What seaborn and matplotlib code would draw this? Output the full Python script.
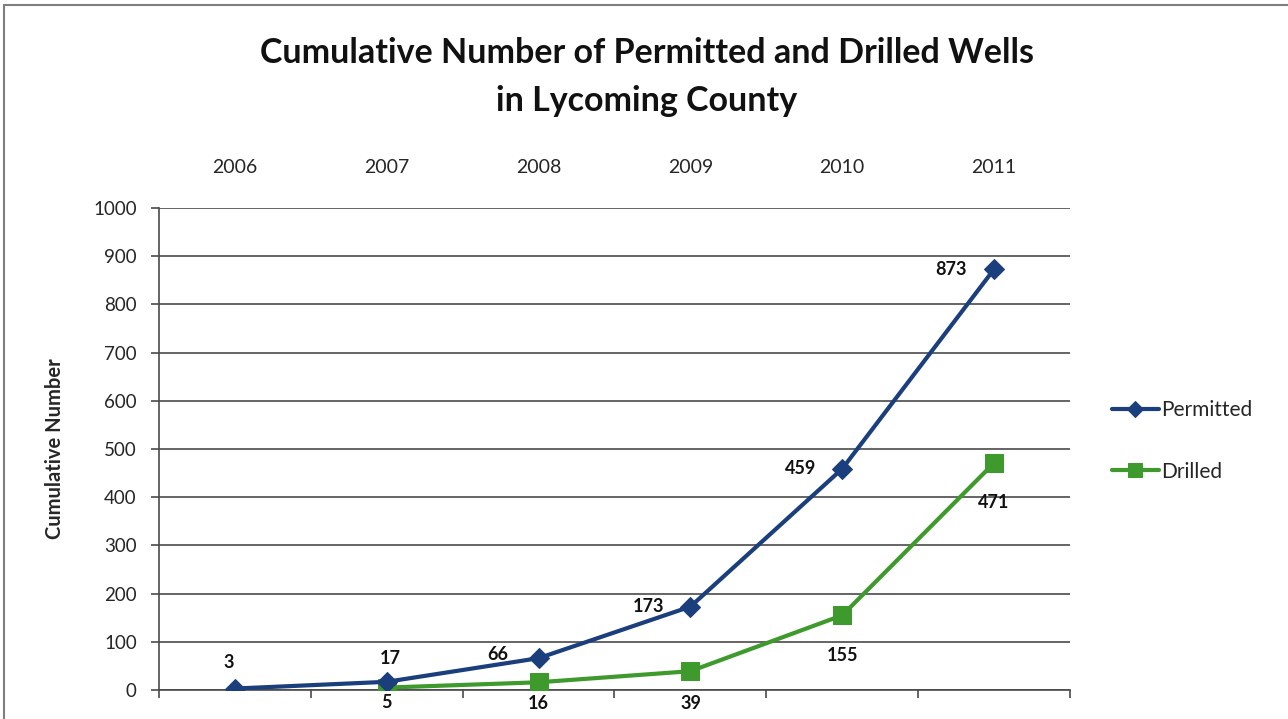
import matplotlib
matplotlib.use("Agg")
import matplotlib.pyplot as plt
import seaborn as sns
import pandas as pd
import numpy as np

years = ["2006", "2007", "2008", "2009", "2010", "2011"]
permitted = [3, 17, 66, 173, 459, 873]
drilled = [None, 5, 16, 39, 155, 471]

sns.set_theme(style="white")
plt.rcParams["font.family"] = ["Lato", "DejaVu Sans"]

NAVY = "#1B3F7C"
GREEN = "#3E9A2C"
GRID = "#4a4a4a"

fig = plt.figure(figsize=(12.88, 7.19), dpi=100)
ax = fig.add_axes([159 / 1288, 1 - 690 / 719, (1070 - 159) / 1288, (690 - 208) / 719])

idx = np.arange(len(years))
df_p = pd.DataFrame({"x": idx, "y": permitted})
df_d = pd.DataFrame({"x": idx, "y": drilled}).dropna()

sns.lineplot(data=df_p, x="x", y="y", ax=ax, color=NAVY, linewidth=3.0,
             marker="D", markersize=10, markeredgecolor=NAVY, label="Permitted", zorder=4)
sns.lineplot(data=df_d, x="x", y="y", ax=ax, color=GREEN, linewidth=3.0,
             marker="s", markersize=13, markeredgecolor=GREEN, label="Drilled", zorder=3)

ax.set_xlim(-0.5, len(years) - 0.5)
ax.set_ylim(0, 1000)
ax.set_yticks(np.arange(0, 1001, 100))
ax.yaxis.grid(True, color=GRID, linewidth=1.2)
ax.set_axisbelow(True)

# category labels across the top, boundary ticks along the bottom
ax.xaxis.tick_top()
ax.set_xticks(idx)
ax.set_xticklabels(years, fontsize=14)
ax.tick_params(axis="x", which="major", length=0, pad=23)
ax.set_xticks(np.arange(-0.5, len(years)), minor=True)
ax.tick_params(axis="x", which="minor", bottom=True, top=False, length=6,
               width=1.2, color=GRID, direction="out")
ax.tick_params(axis="y", length=6, width=1.2, color=GRID, direction="out",
               left=True, labelsize=13.5, pad=10)
for s in ["top", "right"]:
    ax.spines[s].set_visible(False)
for s in ["left", "bottom"]:
    ax.spines[s].set_color(GRID)
    ax.spines[s].set_linewidth(1.2)
ax.set_xlabel("")
ax.set_ylabel("Cumulative Number", fontsize=14.5, fontweight="bold", labelpad=20)

# value labels (offsets in pixels)
p_off = [(-6, 26), (4, 23), (-41, 4), (-42, 0), (-42, 0), (-43, 0)]
for i, v in enumerate(permitted):
    dx, dy = p_off[i]
    ax.annotate(str(v), (i, v), xytext=(dx, dy), textcoords="offset pixels",
                ha="center", va="center", fontsize=13, fontweight="bold", color="#111111")
d_off = {1: (0, -15), 2: (0, -21), 3: (0, -32), 4: (0, -40), 5: (0, -40)}
for i, v in enumerate(drilled):
    if v is None:
        continue
    dx, dy = d_off[i]
    ax.annotate(str(v), (i, v), xytext=(dx, dy), textcoords="offset pixels",
                ha="center", va="center", fontsize=13, fontweight="bold", color="#111111",
                annotation_clip=False)

leg = ax.legend(loc="center left", bbox_to_anchor=(1.025, 0.517), frameon=False,
                fontsize=15, handlelength=2.3, labelspacing=2.0, handletextpad=0.1,
                markerscale=0.8)

fig.text(647 / 1288, 1 - 53 / 719, "Cumulative Number of Permitted and Drilled Wells",
         ha="center", va="center", fontsize=24.5, fontweight="bold", color="#111111")
fig.text(647 / 1288, 1 - 101 / 719, "in Lycoming County",
         ha="center", va="center", fontsize=24.5, fontweight="bold", color="#111111")

fig.patches.append(plt.Rectangle((4 / 1288, -0.01), 1.0, 1 - 5 / 719 + 0.01,
                                 transform=fig.transFigure, fill=False,
                                 edgecolor="#7f7f7f", linewidth=1.5))

fig.savefig("out.png", dpi=100)
